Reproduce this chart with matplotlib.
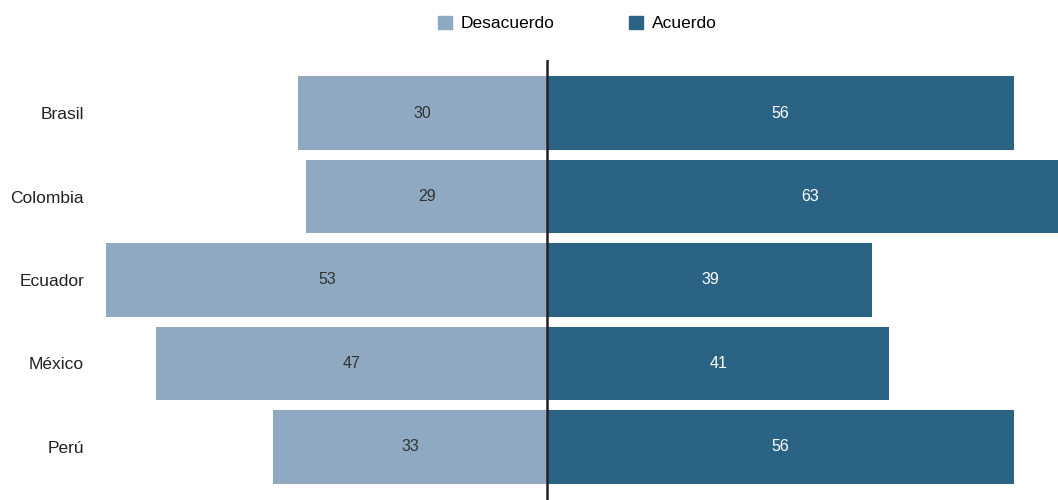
import matplotlib.pyplot as plt
from matplotlib.patches import Patch

plt.rcParams['font.family'] = ['Liberation Sans', 'DejaVu Sans']

paises = ['Brasil', 'Colombia', 'Ecuador', 'México', 'Perú']
desacuerdo = [30, 29, 53, 47, 33]
acuerdo = [56, 63, 39, 41, 56]

col_des = '#8FA9C2'
col_acu = '#2B6385'

fig = plt.figure(figsize=(10.58, 5.0), dpi=100)
ax = fig.add_axes([0.09, 0.0, 0.91, 0.88])

y = range(len(paises))
ax.barh(y, [-v for v in desacuerdo], height=0.875, color=col_des)
ax.barh(y, acuerdo, height=0.875, color=col_acu)

# etiquetas de valor centradas en cada barra
for i in y:
    ax.text(-desacuerdo[i] / 2, i, str(desacuerdo[i]), ha='center', va='center',
            fontsize=11.5, color='#333333')
    ax.text(acuerdo[i] / 2, i, str(acuerdo[i]), ha='center', va='center',
            fontsize=11.5, color='white')

ax.axvline(0, color='#222222', linewidth=1.8)

ax.set_xlim(-54.3, 61.3)
ax.set_ylim(4.635, -0.635)
ax.set_yticks(list(y))
ax.set_yticklabels(paises, fontsize=12.5, color='#222222')
ax.tick_params(axis='y', length=0, pad=8)
ax.set_xticks([])
for s in ax.spines.values():
    s.set_visible(False)

handles = [Patch(color=col_des, label='Desacuerdo'),
           Patch(color=col_acu, label='Acuerdo')]
fig.legend(handles=handles, loc='upper center', bbox_to_anchor=(0.546, 1.0),
           ncol=2, frameon=False, fontsize=12.5, handlelength=0.8, handleheight=0.8,
           columnspacing=4.3, handletextpad=0.5)

fig.savefig('out.png', dpi=100)
